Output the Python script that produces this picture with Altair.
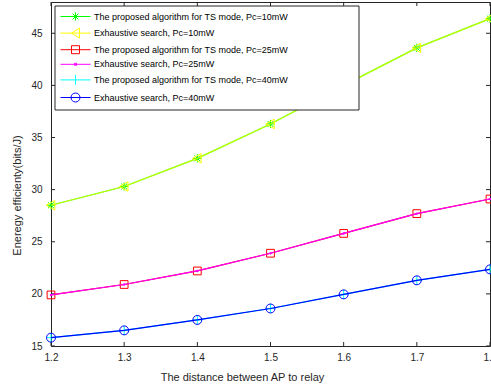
import altair as alt
import pandas as pd

# Distance between AP and relay
distance = [1.2, 1.3, 1.4, 1.5, 1.6, 1.7, 1.8]

# Energy efficiency (bits/J) for each power budget
ts_10 = [28.5, 30.3, 33.0, 36.3, 40.0, 43.6, 46.4]
es_10 = [28.5, 30.3, 33.0, 36.3, 40.0, 43.6, 46.4]
ts_25 = [19.9, 20.9, 22.2, 23.9, 25.8, 27.7, 29.1]
es_25 = [19.9, 20.9, 22.2, 23.9, 25.8, 27.7, 29.1]
ts_40 = [15.8, 16.5, 17.5, 18.6, 19.95, 21.3, 22.35]
es_40 = [15.8, 16.5, 17.5, 18.6, 19.95, 21.3, 22.35]

series = [
    "The proposed algorithm for TS mode, Pc=10mW",
    "Exhaustive search, Pc=10mW",
    "The proposed algorithm for TS mode, Pc=25mW",
    "Exhaustive search, Pc=25mW",
    "The proposed algorithm for TS mode, Pc=40mW",
    "Exhaustive search, Pc=40mW",
]
colors = ["#00ff00", "#ffff00", "#ff0000", "#ff00ff", "#00ffff", "#0000ff"]

y_ticks = [15, 20, 25, 30, 35, 40, 45]

rows = []
for name, vals in zip(series, [ts_10, es_10, ts_25, es_25, ts_40, es_40]):
    for d, v in zip(distance, vals):
        rows.append({"distance": d, "ee": v, "series": name})
df = pd.DataFrame(rows)

W, H = 439, 344
AXIS = "#262626"
FONT = "Liberation Sans"

x_enc = alt.X(
    "distance:Q",
    scale=alt.Scale(domain=[1.2, 1.8], nice=False, zero=False),
    axis=alt.Axis(values=distance, format=".1f", labelPadding=6, labelFlush=False,
                  title="The distance between AP to relay",
                  titleX=191, titleY=31, titleBaseline="middle", titleAlign="center"),
)
y_enc = alt.Y(
    "ee:Q",
    scale=alt.Scale(domain=[15, 48], nice=False, zero=False),
    axis=alt.Axis(values=y_ticks, labelPadding=9, labelFlush=False,
                  title="Eneregy efficienty(bits/J)",
                  titleX=-34, titleY=193, titleAngle=-90,
                  titleBaseline="middle", titleAlign="center"),
)

# marker per series: (shape, size, filled)
markers = [
    ("M-1,0L1,0M0,-1L0,1M-0.7,-0.7L0.7,0.7M-0.7,0.7L0.7,-0.7", 70, False),
    ("M0.8,-1L-1,0L0.8,1Z", 90, False),
    ("square", 60, False),
    ("circle", 6, True),
    ("M-1,0L1,0M0,-1L0,1", 90, False),
    ("circle", 80, False),
]
line_opacity = [1, 0.75, 1, 1, 1, 1]

base = alt.Chart(df)

# legend symbols: line sample with the series marker in its middle
legend_paths = [
    "M-1,0L5,0M1.2,0L2.8,0M2,-0.8L2,0.8M1.43,-0.57L2.57,0.57M1.43,0.57L2.57,-0.57",
    "M-1,0L5,0M2.8,-1L1.2,0L2.8,1Z",
    "M-1,0L5,0M1.2,-0.8L2.8,-0.8L2.8,0.8L1.2,0.8Z",
    "M-1,0L5,0M1.8,-0.2L2.2,-0.2L2.2,0.2L1.8,0.2Z",
    "M-1,0L5,0M2,-1L2,1",
    "M-1,0L5,0M1.1,0A0.9,0.9,0,1,0,2.9,0A0.9,0.9,0,1,0,1.1,0Z",
]
legend_props = dict(
    orient="none", legendX=4, legendY=4, title=None,
    padding=5,
    symbolSize=100, symbolStrokeWidth=1, symbolOpacity=1,
    symbolFillColor="transparent",
    labelFont=FONT, labelFontSize=9, labelColor="black",
    labelOffset=23, rowPadding=2.6, labelLimit=0,
)
# legend-only layer (no rows of its own)
legend_layer = base.transform_filter(alt.datum.distance < 0).mark_point(
    filled=False, strokeWidth=1
).encode(
    x=x_enc, y=y_enc,
    color=alt.Color("series:N", scale=alt.Scale(domain=series, range=colors),
                    legend=alt.Legend(**legend_props)),
    shape=alt.Shape("series:N", scale=alt.Scale(domain=series, range=legend_paths),
                    legend=alt.Legend(**legend_props)),
)

# inward tick marks on all four sides of the frame
ytick_df = pd.DataFrame({"ee": y_ticks})
xtick_df = pd.DataFrame({"distance": distance})
tick_layers = [
    alt.Chart(ytick_df).mark_rule(color=AXIS, strokeWidth=1).encode(y=y_enc, x=alt.value(0), x2=alt.value(4)),
    alt.Chart(ytick_df).mark_rule(color=AXIS, strokeWidth=1).encode(y=y_enc, x=alt.value(W - 4), x2=alt.value(W)),
    alt.Chart(xtick_df).mark_rule(color=AXIS, strokeWidth=1).encode(x=x_enc, y=alt.value(0), y2=alt.value(4)),
    alt.Chart(xtick_df).mark_rule(color=AXIS, strokeWidth=1).encode(x=x_enc, y=alt.value(H - 4), y2=alt.value(H)),
]

data_layers = []
for name, col, (shape, size, filled), op in zip(series, colors, markers, line_opacity):
    sub = base.transform_filter(alt.datum.series == name)
    data_layers.append(
        sub.mark_line(color=col, strokeWidth=1.2, opacity=op).encode(x=x_enc, y=y_enc)
    )
    data_layers.append(
        sub.mark_point(color=col, shape=shape, size=size, filled=filled, strokeWidth=1, opacity=1)
        .encode(x=x_enc, y=y_enc)
    )

# white legend panel with a thin frame, drawn over the curves
legend_box = alt.Chart(pd.DataFrame({"panel": ["legend"]})).mark_rect(
    fill="white", stroke=AXIS, strokeWidth=1
).encode(x=alt.value(4), x2=alt.value(308), y=alt.value(4), y2=alt.value(108))

chart = alt.layer(legend_layer, *tick_layers, *data_layers, legend_box).properties(
    width=W, height=H,
    background="white",
    autosize=alt.AutoSizeParams(type="none"),
    padding={"left": 51, "top": 2, "right": 1, "bottom": 43},
).configure_view(
    stroke=AXIS, strokeWidth=1
).configure_axis(
    domain=False, ticks=False, grid=False,
    labelFont=FONT, labelFontSize=10, labelColor=AXIS,
    titleFont=FONT, titleFontSize=11, titleFontWeight="normal", titleColor=AXIS,
)

chart.save("out.html", embed_options={"renderer": "svg", "actions": False})
